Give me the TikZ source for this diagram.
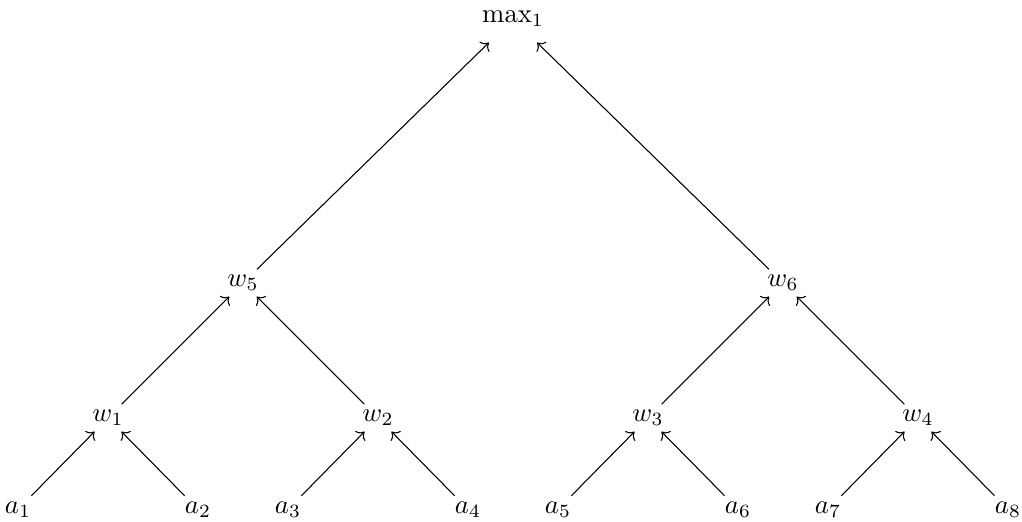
\documentclass[tikz,border=0pt]{standalone}
\usepackage{tikz}
\usetikzlibrary{arrows.meta}
\usepackage{amsmath}

\begin{document}
\begin{tikzpicture}[x=1.181cm, y=1.181cm,
  leaf/.style={inner sep=2pt},
  win/.style={inner sep=2pt},
  top/.style={inner sep=5.7pt}]

\useasboundingbox (0,0) rectangle (11.356,5.8);

% ---- leaves ------------------------------------------------------------------------
\node[leaf] (a1) at (0.2,0.14) {$a_1$};
\node[leaf] (a2) at (2.2,0.14) {$a_2$};
\node[leaf] (a3) at (3.2,0.14) {$a_3$};
\node[leaf] (a4) at (5.2,0.14) {$a_4$};
\node[leaf] (a5) at (6.2,0.14) {$a_5$};
\node[leaf] (a6) at (8.2,0.14) {$a_6$};
\node[leaf] (a7) at (9.2,0.14) {$a_7$};
\node[leaf] (a8) at (11.2,0.14) {$a_8$};

% ---- first round -------------------------------------------------------------------
\node[win] (w1) at (1.2,1.156) {$w_1$};
\node[win] (w2) at (4.2,1.156) {$w_2$};
\node[win] (w3) at (7.2,1.156) {$w_3$};
\node[win] (w4) at (10.2,1.156) {$w_4$};

% ---- second round ------------------------------------------------------------------
\node[win] (w5) at (2.7,2.656) {$w_5$};
\node[win] (w6) at (8.7,2.656) {$w_6$};

% ---- the top -----------------------------------------------------------------------
\node[top] (m1) at (5.7,5.589) {$\max_1$};

\draw[->] (a1) -- (w1);
\draw[->] (a2) -- (w1);
\draw[->] (a3) -- (w2);
\draw[->] (a4) -- (w2);
\draw[->] (a5) -- (w3);
\draw[->] (a6) -- (w3);
\draw[->] (a7) -- (w4);
\draw[->] (a8) -- (w4);
\draw[->] (w1) -- (w5);
\draw[->] (w2) -- (w5);
\draw[->] (w3) -- (w6);
\draw[->] (w4) -- (w6);
\draw[->] (w5) -- (m1);
\draw[->] (w6) -- (m1);

\end{tikzpicture}
\end{document}
